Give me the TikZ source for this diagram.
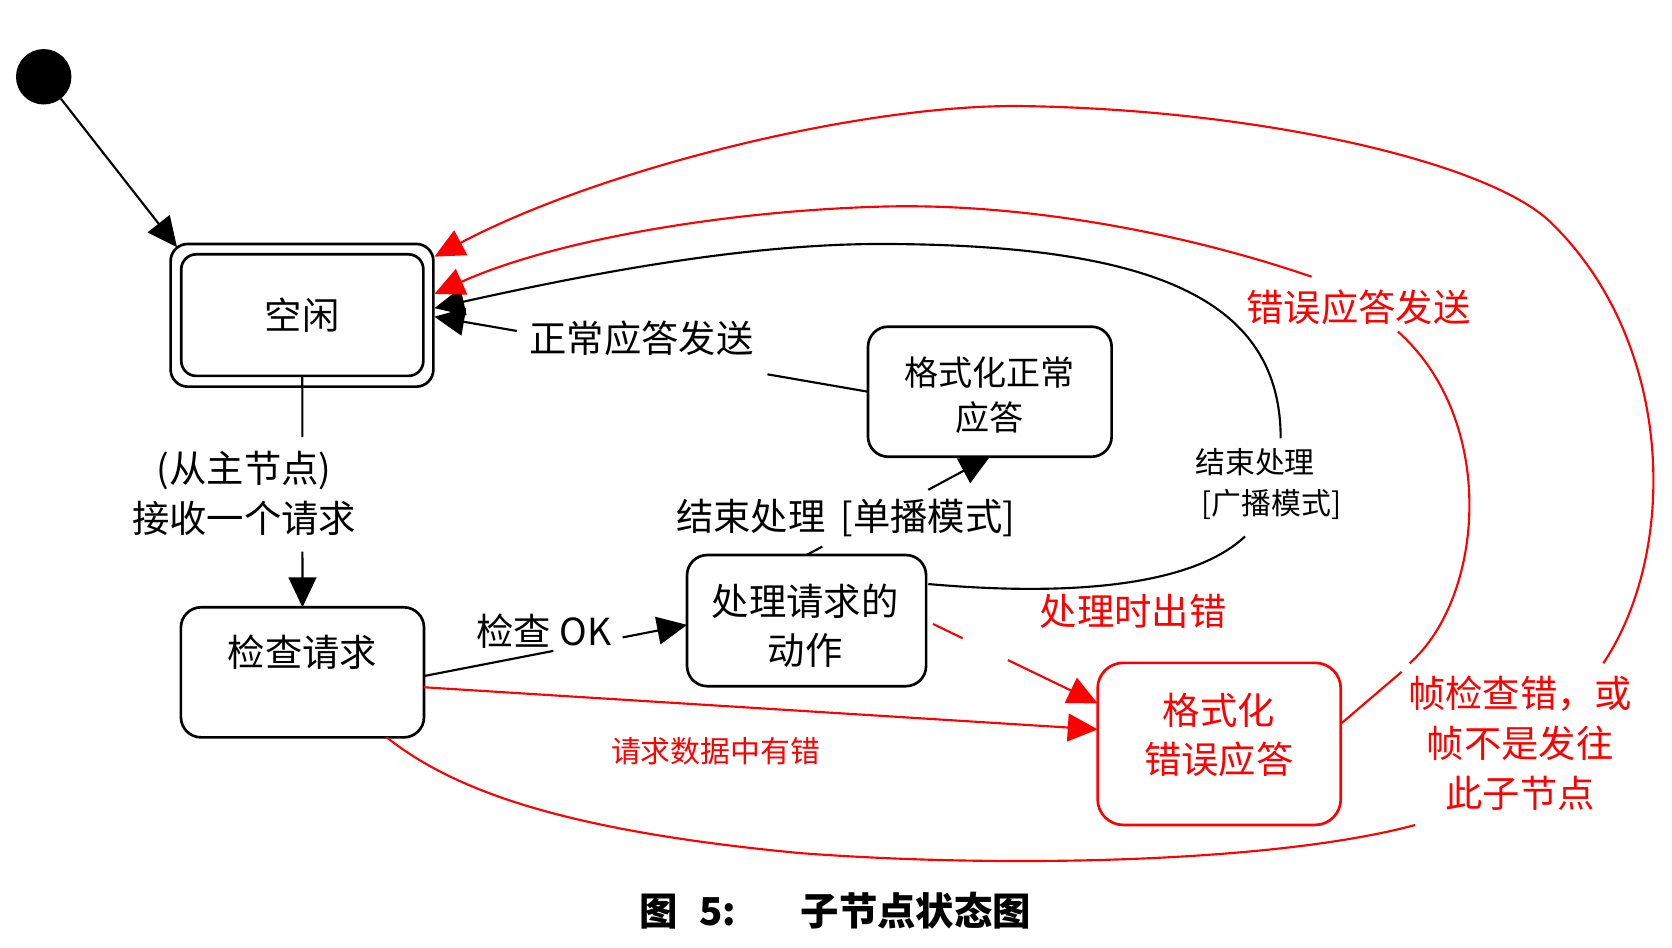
\documentclass[tikz,border=0pt]{standalone}
\usepackage{fontspec}
\setmainfont{Noto Sans CJK SC}
\usetikzlibrary{arrows.meta,calc}
\begin{document}
\begin{tikzpicture}[x=1pt,y=-1pt,
  every node/.style={inner sep=0pt, outer sep=0pt},
  big/.style={font=\fontsize{35}{46}\selectfont},
  mid/.style={font=\fontsize{32}{43}\selectfont},
  small/.style={font=\fontsize{28}{38.5}\selectfont},
  statebox/.style={draw, line width=2.5pt, rounded corners=19pt},
  conn/.style={line width=2pt},
  tipb/.style={-{Triangle[length=28pt,width=26pt]}},
  redconn/.style={conn, draw=red, -{Triangle[length=28pt,width=26pt]}},
]
\useasboundingbox (0,0) rectangle (1568,889);

% states
\node[circle, fill=black, minimum size=52pt] (init) at (41,72) {};
\node[statebox, minimum width=246.4pt, minimum height=133.8pt, rounded corners=16pt] (idleout) at (283.2,295.7) {};
\node[statebox, minimum width=227pt, minimum height=114pt, rounded corners=14pt, big] (idle) at (283.5,295.5) {空闲};

\node[statebox, minimum width=228pt, minimum height=122pt] (check) at (283.65,630.5) {};
\node[big] (checktxt) at (283.6,612) {检查请求};

\node[statebox, minimum width=224.2pt, minimum height=123pt] (proc) at (756.4,582) {};
\node[big, align=center] (proctxt) at (755,587) {处理请求的\\动作};

\node[statebox, minimum width=228.5pt, minimum height=122pt] (fmtok) at (928.25,367.35) {};
\node[mid, align=center] (fmtoktxt) at (928,370.5) {格式化正常\\应答};

\node[statebox, draw=red, minimum width=228pt, minimum height=152pt, rounded corners=24pt] (fmterr) at (1143.35,697.6) {};
\node[big, text=red, align=center] (fmterrtxt) at (1143,689) {格式化\\错误应答};

% labels
\node[font=\fontsize{35}{47}\selectfont, align=center] (lrecv) at (229,462.5) {(从主节点)\\接收一个请求};
\node[big] (lok) at (510,592) {检查 OK};
\node[big] (luni) at (793,486) {结束处理\hspace{14pt}[单播模式]};
\node[big] (lnorm) at (601.6,317.4) {正常应答发送};
\node[small, align=left, anchor=west] (lbc) at (1121,454) {结束处理\\\hspace{6pt}[广播模式]};
\node[big, text=red] (lerr) at (1274,288) {错误应答发送};
\node[big, text=red] (lpe) at (1062.7,573) {处理时出错};
\node[small, text=red] (lre) at (671,704) {请求数据中有错};
\node[font=\fontsize{35}{46.5}\selectfont, text=red, align=center] (lfr) at (1425.6,697) {帧检查错，或\\帧不是发往\\此子节点};
\node[anchor=west, font=\fontsize{36}{40}\selectfont\bfseries] (cap) at (600,854) {\makebox[56pt][l]{图}\makebox[95pt][l]{5:}子节点状态图};

% coordinates for connector ends
\coordinate (idot) at ($(idleout.north west)+(6,3)$);
\coordinate (ca) at ($(check.east)+(0,3.5)$);
\coordinate (pb) at ($(proc.west)+(0,4)$);
\coordinate (ie) at ($(idleout.east)+(1,1.3)$);
\coordinate (pbs) at ($(proc.east)+(2,-34.3)$);
\coordinate (ib) at ($(idleout.east)+(1,-6.7)$);
\coordinate (fe1) at ($(fmterr.east)+(1,-19.6)$);
\coordinate (ir2) at ($(idleout.east)+(1,-20)$);
\coordinate (ce2) at ($(check.east)+(0,14)$);
\coordinate (fw1) at ($(fmterr.west)+(0,-13.6)$);
\coordinate (fw2) at ($(fmterr.west)+(0,-38)$);
\coordinate (cs) at ($(check.south east)+(-35,0)$);
\coordinate (ir1) at ($(idleout.east)+(1,-55)$);

% black connectors
\draw[conn, tipb] (init) -- (idot);
\draw[conn, tipb] (idle.south) -- ($(idle.south)!0.2645!(check.north)$)
  ($(idle.south)!0.7594!(check.north)$) -- (check.north);
\draw[conn, tipb] (ca) -- ($(ca)!0.4917!(pb)$) ($(ca)!0.755!(pb)$) -- (pb);
\draw[conn, tipb] (proc.north) -- ($(proc.north)!0.086!(fmtok.south)$)
  ($(proc.north)!0.664!(fmtok.south)$) -- (fmtok.south);
\draw[conn, tipb] (fmtok.west) -- ($(fmtok.west)!0.232!(ie)$)
  ($(fmtok.west)!0.81!(ie)$) -- (ie);
\draw[conn, tipb] (pbs) .. controls (1010,560) and (1120,548) .. (1167.6,503)
  (1201,411) .. controls (1201,283.6) and (1088,229) .. (825,228.8)
  .. controls (700,229) and (560,255) .. (ib);

% red connectors
\draw[redconn] (fe1) -- (1314.5,630)
  (1322,622) .. controls (1392,560) and (1405,395) .. (1311,311)
  (1230,259.5) .. controls (1100,215) and (950,190) .. (825,193.8)
  .. controls (680,198) and (520,225) .. (ir2);
\draw[redconn] (ce2) -- (fw1);
\draw[redconn] ($(proc.east)!0.04!(fw2)$) -- ($(proc.east)!0.213!(fw2)$)
  ($(proc.east)!0.477!(fw2)$) -- (fw2);
\draw[redconn] (cs) .. controls (430,745) and (540,780) .. (750,800)
  .. controls (950,815) and (1200,808) .. (1327,773.7)
  (1503.6,622) .. controls (1575,515) and (1570,320) .. (1453.6,207.9)
  .. controls (1395,152) and (1180,102) .. (953.5,99.4)
  .. controls (800,99) and (560,160) .. (ir1);
\end{tikzpicture}
\end{document}
